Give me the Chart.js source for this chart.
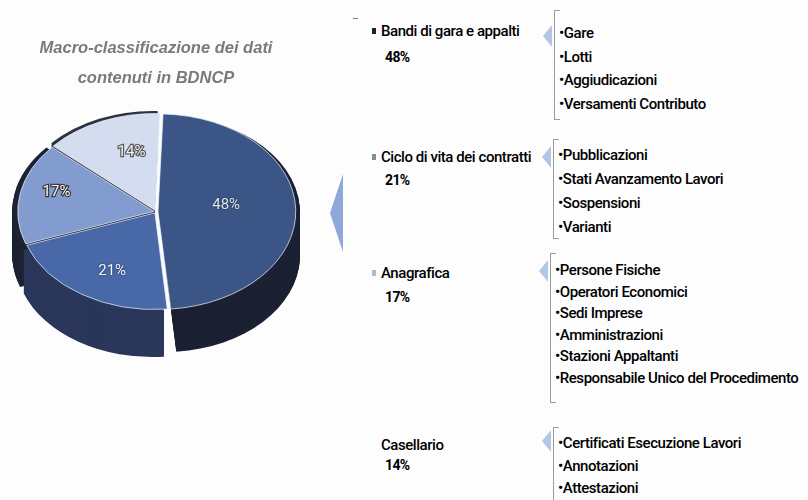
<!DOCTYPE html>
<html>
<head>
<meta charset="utf-8">
<script src="https://cdn.jsdelivr.net/npm/chart.js@4.4.1/dist/chart.umd.min.js"></script>
<style>
  html, body { margin: 0; padding: 0; background: #fdfdfe; }
  body { width: 808px; height: 500px; position: relative; overflow: hidden;
         font-family: Roboto, "Liberation Sans", sans-serif; color: #000; }
  #pie-wrap { position: absolute; left: 0; top: 0; width: 320px; height: 430px; }
  .txt { position: absolute; white-space: nowrap; line-height: 18px; font-size: 15px; font-weight: 500; letter-spacing: -0.45px; }
  .pct { font-weight: 700; font-size: 14px; letter-spacing: -0.6px; }
  .sq { position: absolute; width: 4px; height: 6px; }
  .bracket { position: absolute; width: 5px; border: 1px solid #9c9c9c; border-right: none; }
  .tri { position: absolute; width: 0; height: 0; border-style: solid; border-color: transparent; }
</style>
</head>
<body>
<div id="pie-wrap"><canvas id="pie"></canvas></div>
<div id="side"></div>
<script>
const categories = ['Bandi di gara e appalti', 'Ciclo di vita dei contratti', 'Anagrafica', 'Casellario'];
const values = [48, 21, 17, 14];
const details = [
  ['Gare', 'Lotti', 'Aggiudicazioni', 'Versamenti Contributo'],
  ['Pubblicazioni', 'Stati Avanzamento Lavori', 'Sospensioni', 'Varianti'],
  ['Persone Fisiche', 'Operatori Economici', 'Sedi Imprese', 'Amministrazioni', 'Stazioni Appaltanti', 'Responsabile Unico del Procedimento'],
  ['Certificati Esecuzione Lavori', 'Annotazioni', 'Attestazioni']
];

// slice look
const topColors = ['#3b5586', '#4868a8', '#829cd0', '#d3ddef'];
const sideColors = ['#1b2132', '#2a375a', '#1e2333', '#2c3240'];
const labelColors = ['#dfe3ea', '#f4f4f4', '#f6f6f6', '#f2f2f2'];
const labelStroke = [null, null, '#3a3a3a', '#5a5a5a'];
const labelRadius = [0.52, 0.70, 0.76, 0.64];
const labelTurn = [-0.1, -0.09, 0.08, 0.12];
const TILT = 0.71;
const DEPTH = 44;

// fake 3D: squash the pie vertically and extrude the slices downward
const pie3d = {
  id: 'pie3d',
  beforeDatasetsDraw(chart) {
    const ctx = chart.ctx;
    const arcs = chart.getDatasetMeta(0).data;
    const cx = arcs[0].x, cy = arcs[0].y;
    ctx.save();
    ctx.translate(cx, cy);
    ctx.scale(1, TILT);
    ctx.translate(-cx, -cy);
    // back slices first so the front walls stay on top
    const order = arcs.map((a, i) => i).sort((a, b) => {
      const ma = (arcs[a].startAngle + arcs[a].endAngle) / 2;
      const mb = (arcs[b].startAngle + arcs[b].endAngle) / 2;
      return Math.sin(ma) - Math.sin(mb);
    });
    order.forEach(i => {
      const arc = arcs[i];
      const mid = (arc.startAngle + arc.endAngle) / 2;
      const off = arc.options.offset;
      const x = arc.x + Math.cos(mid) * off;
      const y = arc.y + Math.sin(mid) * off;
      ctx.fillStyle = sideColors[i];
      for (let d = DEPTH; d > 0; d--) {
        const dy = d / TILT;
        ctx.beginPath();
        ctx.moveTo(x, y + dy);
        ctx.arc(x, y + dy, arc.outerRadius, arc.startAngle, arc.endAngle);
        ctx.closePath();
        ctx.fill();
      }
    });
  },
  afterDatasetsDraw(chart) {
    const ctx = chart.ctx;
    ctx.restore();
    const arcs = chart.getDatasetMeta(0).data;
    ctx.save();
    ctx.font = '15px Roboto, "Liberation Sans", sans-serif';
    ctx.textAlign = 'center';
    ctx.textBaseline = 'middle';
    arcs.forEach((arc, i) => {
      const mid = (arc.startAngle + arc.endAngle) / 2 + labelTurn[i];
      const r = arc.outerRadius * labelRadius[i];
      const lx = arc.x + Math.cos(mid) * r;
      const ly = arc.y + Math.sin(mid) * r * TILT;
      const text = values[i] + '%';
      if (labelStroke[i]) {
        ctx.lineWidth = 2.5;
        ctx.strokeStyle = labelStroke[i];
        ctx.strokeText(text, lx, ly);
      } else {
        ctx.shadowColor = 'rgba(0,0,0,0.6)';
        ctx.shadowBlur = 2;
      }
      ctx.fillStyle = labelColors[i];
      ctx.fillText(text, lx, ly);
      ctx.shadowColor = 'transparent';
    });
    ctx.restore();
  }
};

new Chart(document.getElementById('pie'), {
  type: 'pie',
  data: {
    labels: categories,
    datasets: [{
      data: values,
      backgroundColor: topColors,
      borderColor: 'rgba(236,241,250,0.85)',
      borderWidth: 1,
      offset: 8,
      radius: 136,
      clip: false
    }]
  },
  options: {
    responsive: true,
    maintainAspectRatio: false,
    animation: false,
    events: [],
    rotation: 2,
    layout: { padding: { right: 8, bottom: 100 } },
    plugins: {
      legend: { display: false },
      tooltip: { enabled: false },
      title: {
        display: true,
        text: ['Macro-classificazione dei dati', 'contenuti in BDNCP'],
        color: '#7a7a7a',
        font: { family: '"Liberation Sans", Arial, sans-serif', size: 16.5, style: 'italic', weight: 'bold', lineHeight: 1.8 },
        padding: { top: 34, bottom: 0 }
      }
    }
  },
  plugins: [pie3d]
});

// right-hand breakdown: category, share, bracket with the data it holds
const groupLayout = [
  { labelY: 31, pctY: 57, itemY: 33, step: 23.5, x: 554, top: 10, bottom: 118, arrowY: 36, bullet: '#222' },
  { labelY: 157, pctY: 180, itemY: 155, step: 24, x: 553, top: 139, bottom: 237, arrowY: 157, bullet: '#8a8a8a' },
  { labelY: 273, pctY: 297, itemY: 270, step: 21.6, x: 550, top: 253, bottom: 401, arrowY: 271, bullet: '#b3b8c4' },
  { labelY: 445, pctY: 465, itemY: 443, step: 22.5, x: 553, top: 427, bottom: 520, arrowY: 441, bullet: null }
];

const side = document.getElementById('side');
function add(cls, css, text) {
  const el = document.createElement('div');
  el.className = cls;
  Object.assign(el.style, css);
  if (text !== undefined) el.textContent = text;
  side.appendChild(el);
  return el;
}

categories.forEach((name, i) => {
  const g = groupLayout[i];
  if (g.bullet) add('sq', { left: '372px', top: (g.labelY - 3) + 'px', background: g.bullet });
  add('txt', { left: '381px', top: (g.labelY - 9) + 'px' }, name);
  add('txt pct', { left: '385px', top: (g.pctY - 9) + 'px' }, values[i] + '%');
  add('tri', { left: (g.x - 11) + 'px', top: (g.arrowY - 11) + 'px', borderWidth: '11px 9px 11px 0', borderRightColor: '#b4c6e6' });
  add('bracket', { left: g.x + 'px', top: g.top + 'px', height: (g.bottom - g.top) + 'px' });
  details[i].forEach((item, k) => {
    add('txt', { left: (g.x + 5) + 'px', top: (g.itemY + k * g.step - 9) + 'px' }, '\u2022' + item);
  });
});

// big pointer between the pie and the list
add('tri', { left: '330px', top: '174px', borderWidth: '39px 13px 39px 0', borderRightColor: '#8ea8da' });
add('', { position: 'absolute', left: '353px', top: '18px', width: '5px', height: '1px', background: '#777' });
</script>
</body>
</html>
